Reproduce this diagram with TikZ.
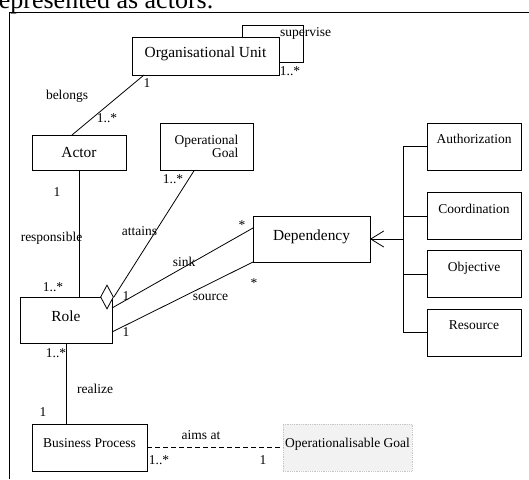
\documentclass[tikz,border=0pt]{standalone}
\usepackage{fontspec}
\setmainfont{Liberation Serif}
\usetikzlibrary{shapes.geometric,arrows.meta,calc}
\tikzset{
  cls/.style={draw, fill=white, line width=0.8pt, inner sep=0pt, outer sep=0pt, font=\fontsize{13.5}{13}\selectfont},
  bigcls/.style={cls, font=\fontsize{15.4}{18}\selectfont},
  lifted/.style={text height=11pt, text depth=8pt},
  subcls/.style={cls, minimum width=94pt, minimum height=47pt, text height=9pt, text depth=15pt},
  lbl/.style={inner sep=0pt, font=\fontsize{13.5}{15}\selectfont},
  assoc/.style={line width=0.8pt},
  gen/.style={line width=0.8pt, -{Straight Barb[length=13pt,width=16pt]}},
}
\begin{document}
\begin{tikzpicture}[x=1pt,y=-1pt]
    \useasboundingbox (0,0) rectangle (529,479);
    \clip (0,0) rectangle (529,479);
    \node[anchor=base west, inner sep=0pt, font=\fontsize{26}{30}\selectfont] (caption) at (-10,9) {represented as actors.};
    \draw[assoc] (529,12) -- (9,12) -- (9,479);

    \node[bigcls, lifted, minimum width=147pt, minimum height=38pt] (ou) at (205.5,56) {Organisational Unit};
    \node[bigcls, minimum width=94pt, minimum height=35pt] (actor) at (79,152.5) {Actor};
    \node[cls, align=right, minimum width=93pt, minimum height=47pt] (opgoal) at (206.5,146.5) {Operational\\Goal};
    \node[bigcls, lifted, minimum width=92pt, minimum height=46pt] (role) at (66,320) {Role};
    \node[bigcls, lifted, minimum width=117pt, minimum height=46pt] (dep) at (311.5,239) {Dependency};
    \node[subcls] (auth) at (474,146.5) {Authorization};
    \node[subcls] (coord) at (474,216) {Coordination};
    \node[subcls] (obj) at (474,274) {Objective};
    \node[subcls] (res) at (474,332.5) {Resource};
    \node[cls, text height=9pt, text depth=9pt, minimum width=115pt, minimum height=47pt] (bp) at (89.5,447.5) {Business Process};
    \node[cls, draw=gray!45, densely dotted, fill=gray!10, text height=9pt, text depth=9pt, minimum width=129pt, minimum height=47pt] (opgl) at (347.5,447.5) {Operationalisable Goal};
    \node[draw, fill=white, diamond, line width=0.8pt, inner sep=0pt, minimum width=13pt, minimum height=24pt] (agg) at ([xshift=-5pt]role.north east) {};

    \draw[assoc] ([xshift=-37pt]ou.north east) -- ++(0,-12) -- ++(61,0) -- ++(0,37) -- ++(-24,0);
    \draw[assoc] ([xshift=12pt]ou.south west) -- ([xshift=-7pt]actor.north);
    \draw[assoc] (actor.south) -- (actor.south |- role.north);
    \draw[assoc] ([xshift=-12pt]opgoal.south) -- (agg.east);
    \draw[assoc] ([yshift=12pt]role.east) -- ([yshift=11pt]dep.west);
    \draw[assoc] ([yshift=-12pt]role.east) -- (dep.south west);
    \coordinate (bus) at ([xshift=33pt]dep.east);
    \draw[gen] (bus) -- (dep.east);
    \draw[assoc] (auth.west) -- ++(-24,0) |- (res.west);
    \draw[assoc] (coord.west) -- ++(-24,0);
    \draw[assoc] (obj.west) -- ++(-24,0);
    \draw[assoc] (role.south) -- (role.south |- bp.north);
    \draw[assoc, dash pattern=on 5pt off 3pt] (bp.east) -- (opgl.west);

    \node[lbl] (supL) at (305.5,33) {supervise};
    \node[lbl] (supM) at (290,71) {1..*};
    \node[lbl] (belM1) at (147,83) {1};
    \node[lbl] (belL) at (67,96) {belongs};
    \node[lbl] (belM2) at (107,118) {1..*};
    \node[lbl] (resM1) at (57,192) {1};
    \node[lbl] (resL) at (51.5,238) {responsible};
    \node[lbl] (resM2) at (53,287) {1..*};
    \node[lbl] (attM) at (173,179) {1..*};
    \node[lbl] (attL) at (139.5,231) {attains};
    \node[lbl] (sinkM1) at (126,296) {1};
    \node[lbl] (sinkL) at (184,262) {sink};
    \node[lbl] (sinkM2) at (242,225) {*};
    \node[lbl] (srcM1) at (126,332) {1};
    \node[lbl] (srcL) at (210.5,297) {source};
    \node[lbl] (srcM2) at (254,283) {*};
    \node[lbl] (realM1) at (56,353) {1..*};
    \node[lbl] (realL) at (95,389) {realize};
    \node[lbl] (realM2) at (43,412) {1};
    \node[lbl] (aimL) at (201,435) {aims at};
    \node[lbl] (aimM1) at (159,460) {1..*};
    \node[lbl] (aimM2) at (263,460) {1};
\end{tikzpicture}
\end{document}
